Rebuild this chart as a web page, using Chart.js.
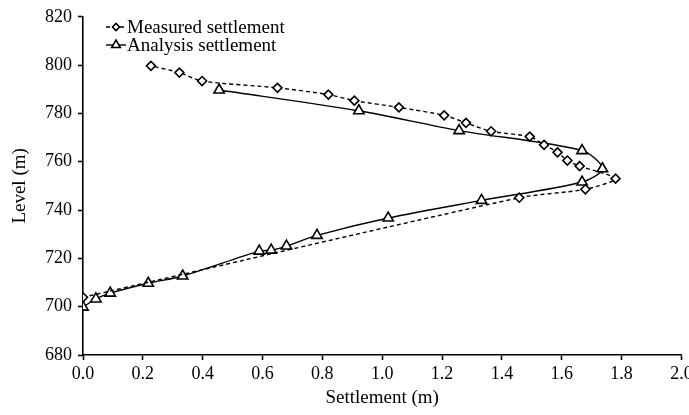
<!DOCTYPE html>
<html>
<head>
<meta charset="utf-8">
<script src="https://cdn.jsdelivr.net/npm/chart.js@4/dist/chart.umd.min.js"></script>
<style>
    html, body { margin: 0; padding: 0; background: #fff; }
    #wrap { width: 689px; height: 415px; position: relative; }
</style>
</head>
<body>
<div id="wrap"><canvas id="myChart"></canvas></div>
<script>
// measured settlement (diamonds), bottom to top
const measuredSettlement = [0.00, 1.458, 1.679, 1.780, 1.660, 1.619, 1.586, 1.541, 1.493, 1.364, 1.280, 1.207, 1.056, 0.907, 0.820, 0.650, 0.398, 0.322, 0.227];
const measuredLevel = [703.9, 745.1, 748.6, 753.0, 758.2, 760.5, 763.9, 767.0, 770.4, 772.6, 776.1, 779.2, 782.5, 785.3, 787.8, 790.6, 793.4, 796.9, 799.7];

// analysis settlement (triangles)
const analysisSettlement = [0.00, 0.043, 0.091, 0.218, 0.333, 0.589, 0.629, 0.680, 0.782, 1.020, 1.332, 1.668, 1.736, 1.668, 1.257, 0.922, 0.455];
const analysisLevel = [699.8, 703.2, 705.6, 709.7, 712.7, 723.0, 723.4, 725.1, 729.5, 736.7, 744.0, 751.6, 757.1, 764.6, 772.9, 781.1, 789.7];

const seriesNames = ['Measured settlement', 'Analysis settlement'];
const xTitle = 'Settlement (m)';
const yTitle = 'Level (m)';

const toPoints = (xs, ys) => xs.map((x, i) => ({ x: x, y: ys[i] }));

const FONT = 'Liberation Serif, Times New Roman, serif';

// легенда в две строки слева сверху
const stackedLegend = {
    id: 'stackedLegend',
    afterDraw(chart) {
        const { ctx } = chart;
        const x0 = 106, rowH = 18, y0 = 27;
        const legendRadius = [3.5, 5];
        chart.data.datasets.forEach((ds, i) => {
            const y = y0 + i * rowH;
            ctx.save();
            ctx.strokeStyle = ds.borderColor;
            ctx.lineWidth = ds.borderWidth;
            ctx.setLineDash(ds.borderDash || []);
            ctx.beginPath();
            ctx.moveTo(x0, y);
            ctx.lineTo(x0 + 20, y);
            ctx.stroke();
            ctx.setLineDash([]);
            ctx.fillStyle = ds.pointBackgroundColor;
            ctx.strokeStyle = ds.pointBorderColor;
            ctx.lineWidth = ds.pointBorderWidth;
            Chart.helpers.drawPoint(ctx, {
                pointStyle: ds.pointStyle,
                radius: legendRadius[i],
                borderWidth: ds.pointBorderWidth,
                rotation: 0,
            }, x0 + 10, y);
            ctx.fillStyle = '#000';
            ctx.font = '19px ' + FONT;
            ctx.textBaseline = 'middle';
            ctx.textAlign = 'left';
            ctx.fillText(seriesNames[i], x0 + 21, y + 1);
            ctx.restore();
        });
    }
};

new Chart(document.getElementById('myChart'), {
    type: 'scatter',
    data: {
        datasets: [
            {
                label: seriesNames[0],
                data: toPoints(measuredSettlement, measuredLevel),
                showLine: true,
                borderColor: '#000',
                borderWidth: 1.4,
                borderDash: [4, 3],
                tension: 0.25,
                pointStyle: 'rectRot',
                pointRadius: 4.5,
                pointBackgroundColor: '#fff',
                pointBorderColor: '#000',
                pointBorderWidth: 1.6,
            },
            {
                label: seriesNames[1],
                data: toPoints(analysisSettlement, analysisLevel),
                showLine: true,
                borderColor: '#000',
                borderWidth: 1.4,
                tension: 0.3,
                pointStyle: 'triangle',
                pointRadius: 6,
                pointBackgroundColor: '#fff',
                pointBorderColor: '#000',
                pointBorderWidth: 1.6,
            }
        ]
    },
    options: {
        responsive: true,
        maintainAspectRatio: false,
        animation: false,
        layout: { padding: { top: 16, right: 7, left: 0, bottom: 0 } },
        scales: {
            x: {
                type: 'linear',
                min: 0,
                max: 2,
                afterFit: (scale) => { scale.height = 60; scale.paddingRight = 0; },
                border: { display: true, color: '#000', width: 1.6 },
                grid: { drawOnChartArea: false, color: '#000', tickLength: 5, tickWidth: 1.6 },
                ticks: {
                    stepSize: 0.2,
                    color: '#000',
                    padding: 3,
                    font: { family: FONT, size: 18 },
                    callback: (v) => Number(v).toFixed(1),
                },
                title: {
                    display: true,
                    text: xTitle,
                    color: '#000',
                    font: { family: FONT, size: 19 },
                    padding: { top: 0, bottom: 6 },
                },
            },
            y: {
                type: 'linear',
                min: 680,
                max: 820,
                afterFit: (scale) => { scale.width = 83; },
                border: { display: true, color: '#000', width: 1.6 },
                grid: { drawOnChartArea: false, color: '#000', tickLength: 5, tickWidth: 1.6 },
                ticks: {
                    stepSize: 20,
                    color: '#000',
                    padding: 6,
                    font: { family: FONT, size: 18 },
                },
                title: {
                    display: true,
                    text: yTitle,
                    color: '#000',
                    font: { family: FONT, size: 19 },
                    padding: { top: 9, bottom: 0 },
                },
            }
        },
        plugins: {
            legend: { display: false },
            tooltip: { enabled: false },
        }
    },
    plugins: [stackedLegend]
});
</script>
</body>
</html>
